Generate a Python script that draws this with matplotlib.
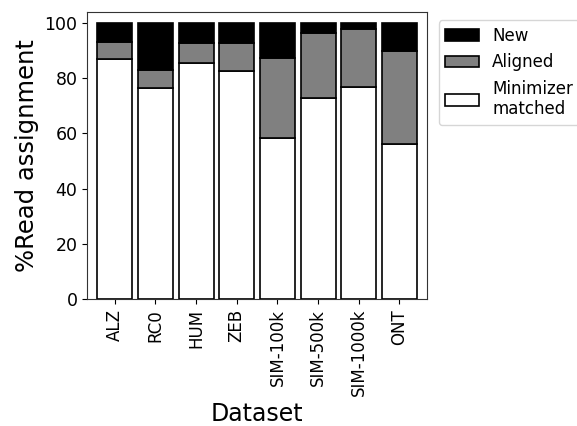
import numpy as np
import matplotlib
matplotlib.use('Agg')
import matplotlib.pyplot as plt

datasets = ['ALZ', 'RC0', 'HUM', 'ZEB', 'SIM-100k', 'SIM-500k', 'SIM-1000k', 'ONT']
minimizer = [86.8, 76.4, 85.4, 82.6, 58.5, 73.0, 76.7, 56.0]
aligned = [6.2, 6.7, 7.3, 10.0, 28.8, 23.4, 21.2, 33.8]
new = [100 - m - a for m, a in zip(minimizer, aligned)]

fig = plt.figure(figsize=(5.77, 4.26), dpi=100)
ax = fig.add_axes([0.151, 0.298, 0.589, 0.674])

x = np.arange(len(datasets))
w = 0.86
ax.bar(x, minimizer, w, color='white', edgecolor='black', linewidth=1.2, label='Minimizer\nmatched')
ax.bar(x, aligned, w, bottom=minimizer, color='gray', edgecolor='black', linewidth=1.2, label='Aligned')
bot2 = [m + a for m, a in zip(minimizer, aligned)]
ax.bar(x, new, w, bottom=bot2, color='black', edgecolor='black', linewidth=1.2, label='New')

ax.set_xticks(x)
ax.set_xticklabels(datasets, rotation=90, fontsize=12)
ax.tick_params(axis='y', labelsize=12.5)
ax.set_xlim(-0.68, 7.68)
ax.set_ylim(0, 104)
ax.set_yticks([0, 20, 40, 60, 80, 100])
ax.set_xlabel('Dataset', fontsize=17)
ax.set_ylabel('%Read assignment', fontsize=17.5)
for s in ax.spines.values():
    s.set_color('#333333')

h, l = ax.get_legend_handles_labels()
ax.legend(h[::-1], l[::-1], loc='upper left', bbox_to_anchor=(1.01, 1.0), fontsize=12)

fig.savefig('out.png', dpi=100)
